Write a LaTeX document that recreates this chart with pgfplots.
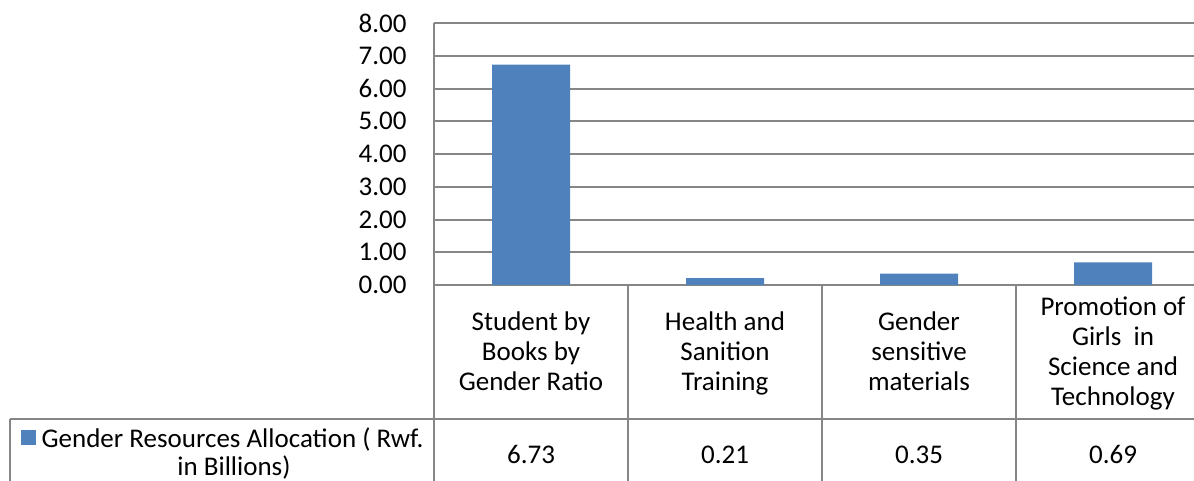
\documentclass[border=0pt]{standalone}
\usepackage{fontspec}
\setmainfont{Carlito}
\usepackage{pgfplots}
\pgfplotsset{compat=1.18}
\definecolor{barblue}{RGB}{79,129,189}
\definecolor{gridgray}{RGB}{134,134,134}
\newcommand{\lbl}{\fontsize{13.5}{15}\selectfont}
\newcommand{\s}{\strut}

\begin{document}
\lbl
% picture laid out in reference pixels: 1px = 0.5pt, y downwards
\begin{tikzpicture}[x=0.5pt,y=-0.5pt]
\useasboundingbox (0,0) rectangle (1194,481);
\coordinate (O) at (434,285);
\begin{axis}[
    at={(O)}, anchor=south west,
    scale only axis, width=380pt, height=131pt,
    xmin=-0.5, xmax=3.4175, ymin=0, ymax=8,
    ytick={0,1,...,8}, xtick=\empty,
    axis line style={draw=none},
    ymajorgrids, grid style={gridgray, line width=1pt},
    major tick length=0pt,
    /pgf/number format/assume math mode=true,
    yticklabel style={/pgf/number format/fixed,
        /pgf/number format/fixed zerofill,
        /pgf/number format/precision=2,
        font=\lbl, xshift=-9pt},
    ybar, bar width=39pt,
]
\addplot[fill=barblue, draw=none] coordinates {
    (0,6.73) (1,0.21) (2,0.35) (3,0.69)
};
\end{axis}

% data table under the plot
\begin{scope}[gridgray, line width=1pt]
\draw (434,23) -- (434,481);
\foreach \x in {628,822,1016} \draw (\x,285) -- (\x,481);
\draw (10,419) -- (1194,419);
\draw (10,419) -- (10,481);
\end{scope}

\begin{scope}[every node/.style={align=center, inner sep=0pt, font=\lbl}]
\node at (531,354) {\s Student by\\\s Books by\\\s Gender Ratio};
\node at (725,354) {\s Health and\\\s Sanition\\\s Training};
\node at (919,354) {\s Gender\\\s sensitive\\\s materials};
\node at (1113,354) {\s Promotion of\\\s Girls\ \ in\\\s Science and\\\s Technology};

\node[anchor=base] at (531,463) {6.73};
\node[anchor=base] at (725,463) {0.21};
\node[anchor=base] at (919,463) {0.35};
\node[anchor=base] at (1113,463) {0.69};

\node[anchor=base] at (222,447) {\textcolor{barblue}{\raisebox{1pt}{\rule{7.5pt}{7.5pt}}} Gender Resources Allocation ( Rwf.};
\node[anchor=base] at (234,475) {in Billions)};
\end{scope}
\end{tikzpicture}
\end{document}
